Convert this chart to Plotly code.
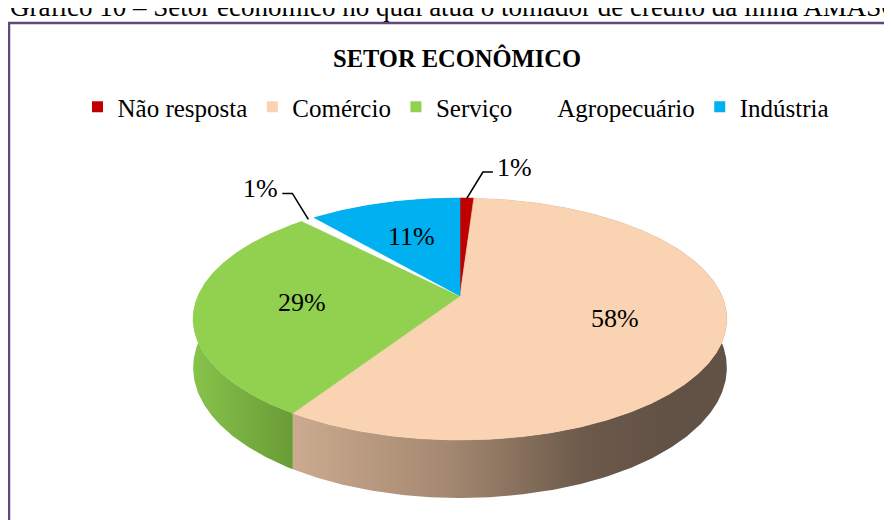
import numpy as np
import plotly.graph_objects as go

# ---------------- data ----------------
categories = ["Não resposta", "Comércio", "Serviço", "Agropecuário", "Indústria"]
values = [1, 58, 29, 1, 11]          # percent
value_labels = ["1%", "58%", "29%", "1%", "11%"]

title_text = "SETOR ECONÔMICO"
caption_text = "Gráfico 10 – Setor econômico no qual atua o tomador de crédito da linha AMASONIA"

# ---------------- style ----------------
FONT = "Liberation Serif"
top_colors = ["#c00000", "#fad3b3", "#92d050", "#ffffff", "#00b0f0"]
side_styles = [
    dict(scale=[[0, "#8a0000"], [1, "#8a0000"]], start=0, stop=892),
    dict(scale=[[0, "#cfae92"], [0.45, "#a3876f"], [0.8, "#6c5a4b"], [1, "#625246"]], start=280, stop=660),
    dict(scale=[[0, "#86c24a"], [1, "#6a9c37"]], start=195, stop=292),
    dict(scale=[[0, "#ffffff"], [1, "#ffffff"]], start=0, stop=892),
    dict(scale=[[0, "#0080b0"], [1, "#0080b0"]], start=0, stop=892),
]
legend_marker_colors = top_colors

# the page body has an 8px margin: map data coordinates to window pixels
OFF = 8
W, H = 892, 520

# 3-D pie geometry (window pixel space)
CX, CY = 460.0, 296.0     # apex of the pie
A, B = 262.0, 116.6       # horizontal / vertical radii before perspective
P = 0.19                  # perspective strength
D = 47.0                  # thickness
LABEL_R = 0.6


def proj(phi_deg, r=1.0):
    phi = np.radians(phi_deg)
    X = r * np.sin(phi)
    Z = r * np.cos(phi)
    s = 1.0 / (1.0 + P * Z)
    return CX + A * X * s, CY - B * Z * s, s


def py_to_paper(py):
    return 1 - (py - OFF) / H


def px_to_paper(px):
    return (px - OFF) / W


total = float(sum(values))
bounds = np.concatenate([[0.0], np.cumsum(values)]) / total * 360.0

fig = go.Figure()

# sides (outer rim)
for i, cat in enumerate(categories):
    a0, a1 = bounds[i], bounds[i + 1]
    phis = np.linspace(a0, a1, max(8, int((a1 - a0) * 2)))
    tx, ty, ts = proj(phis)
    bx, by = tx, ty + D * ts
    xs = np.concatenate([tx, bx[::-1], tx[:1]])
    ys = np.concatenate([ty, by[::-1], ty[:1]])
    st = side_styles[i]
    fig.add_trace(go.Scatter(
        x=xs, y=ys, mode="lines", fill="toself",
        line=dict(width=0, color=st["scale"][-1][1]),
        fillgradient=dict(type="horizontal", colorscale=st["scale"],
                          start=st["start"], stop=st["stop"]),
        hoverinfo="skip", showlegend=False, legendgroup=cat))

# tops
for i, cat in enumerate(categories):
    a0, a1 = bounds[i], bounds[i + 1]
    phis = np.linspace(a0, a1, max(8, int((a1 - a0) * 2)))
    tx, ty, _ = proj(phis)
    xs = np.concatenate([[CX], tx, [CX]])
    ys = np.concatenate([[CY], ty, [CY]])
    fig.add_trace(go.Scatter(
        x=xs, y=ys, mode="lines", fill="toself", fillcolor=top_colors[i],
        line=dict(width=0.6, color=top_colors[i]),
        hoverinfo="text", hovertext=f"{cat}: {value_labels[i]}",
        showlegend=False, legendgroup=cat))

# legend entries
for i, cat in enumerate(categories):
    fig.add_trace(go.Scatter(
        x=[None], y=[None], mode="markers", name=cat, legendgroup=cat,
        marker=dict(symbol="square", size=11, color=legend_marker_colors[i])))

# data labels
annotations = []
for i, cat in enumerate(categories):
    a0, a1 = bounds[i], bounds[i + 1]
    mid = (a0 + a1) / 2.0
    if values[i] >= 5:
        lx, ly, _ = proj(mid, LABEL_R)
        annotations.append(dict(x=float(lx), y=float(ly), xref="x", yref="y",
                                text=value_labels[i], showarrow=False,
                                font=dict(family=FONT, size=26, color="black"),
                                xanchor="center", yanchor="middle"))
    else:
        ex, ey, _ = proj(mid, 1.0)
        sgn = 1.0 if np.sin(np.radians(mid)) >= 0 else -1.0
        elx, ely = ex + sgn * 16, ey - 26
        enx, eny = elx + sgn * 10, ely
        fig.add_trace(go.Scatter(x=[ex, elx, enx], y=[ey, ely, eny], mode="lines",
                                 line=dict(color="black", width=1.6),
                                 hoverinfo="skip", showlegend=False))
        annotations.append(dict(x=float(enx + sgn * 2), y=float(eny - 5), xref="x", yref="y",
                                text=value_labels[i], showarrow=False,
                                font=dict(family=FONT, size=26, color="black"),
                                xanchor="left" if sgn > 0 else "right", yanchor="middle"))

# caption above the chart frame (its upper part is cut by the page top)
annotations.append(dict(x=8, y=24, xref="x", yref="y", text=caption_text, showarrow=False,
                        font=dict(family=FONT, size=27, color="black"),
                        xanchor="left", yanchor="bottom"))

fig.update_layout(
    width=W, height=H,
    margin=dict(l=0, r=0, t=0, b=0),
    paper_bgcolor="white", plot_bgcolor="white",
    xaxis=dict(range=[OFF, OFF + W], visible=False, fixedrange=True),
    yaxis=dict(range=[OFF + H, OFF], visible=False, fixedrange=True),
    title=dict(text=f"<b>{title_text}</b>", x=px_to_paper(457), xanchor="center",
               y=py_to_paper(58), yanchor="middle", yref="container",
               font=dict(family=FONT, size=24.5, color="black")),
    legend=dict(orientation="h", x=px_to_paper(456), xanchor="center",
                y=py_to_paper(107), yanchor="middle",
                font=dict(family=FONT, size=25, color="black"),
                bgcolor="rgba(0,0,0,0)", traceorder="normal"),
    annotations=annotations,
    shapes=[dict(type="rect", xref="x", yref="y", x0=9, y0=23, x1=930, y1=560,
                 line=dict(color="#5f497a", width=2.5), fillcolor="rgba(0,0,0,0)",
                 layer="below")],
    showlegend=True,
)

fig.write_html("out.html")
